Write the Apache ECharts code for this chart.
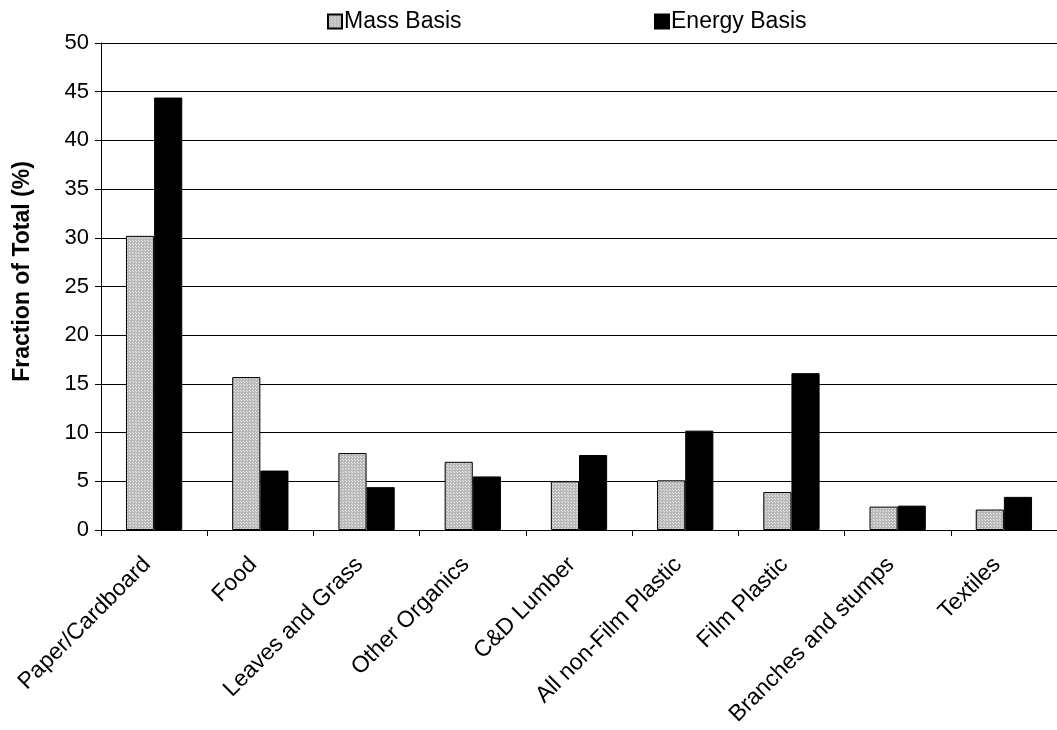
<!DOCTYPE html>
<html>
<head>
<meta charset="utf-8">
<script src="https://cdn.jsdelivr.net/npm/echarts@6/dist/echarts.min.js"></script>
<style>
html,body{margin:0;padding:0;background:#fff;}
#c{width:1057px;height:730px;}
</style>
</head>
<body>
<div id="c"></div>
<script>
var categories = ['Paper/Cardboard','Food','Leaves and Grass','Other Organics','C&D Lumber','All non-Film Plastic','Film Plastic','Branches and stumps','Textiles'];
var massBasis = [30.2, 15.7, 7.9, 7.0, 5.0, 5.1, 3.9, 2.4, 2.1];
var energyBasis = [44.4, 6.1, 4.4, 5.5, 7.7, 10.2, 16.1, 2.5, 3.4];
var yTicks = {min: 0, max: 50, interval: 5};

function makePattern(){
  var cv = document.createElement('canvas');
  cv.width = 3; cv.height = 3;
  var ctx = cv.getContext('2d');
  ctx.fillStyle = '#b8b8b8';
  ctx.fillRect(0,0,3,3);
  ctx.fillStyle = '#e8e8e8';
  ctx.fillRect(1,1,1,1);
  ctx.fillRect(0,0,1,1);
  return cv;
}
var pat = {image: makePattern(), repeat: 'repeat'};
var FONT = 'Liberation Sans, Arial, sans-serif';

var chart = echarts.init(document.getElementById('c'), null, {renderer:'canvas'});
chart.setOption({
  animation: false,
  backgroundColor: '#fff',
  legend: [
    {data:[{name:'Mass Basis', icon:'rect'}], left: 322, top: 5, itemWidth: 14, itemHeight: 14, itemGap: 0,
     textStyle:{fontFamily: FONT, fontSize: 23, color:'#000', padding:[0,0,0,-3]}},
    {data:[{name:'Energy Basis', icon:'rect'}], left: 649, top: 5, itemWidth: 14, itemHeight: 14, itemGap: 0,
     textStyle:{fontFamily: FONT, fontSize: 23, color:'#000', padding:[0,0,0,-3]}}
  ],
  grid: {left: 101, top: 43, width: 966, bottom: 200, containLabel: false},
  xAxis: {
    type: 'category',
    data: categories,
    axisLine: {lineStyle:{color:'#000', width:1}},
    axisTick: {show:true, length:6, lineStyle:{color:'#000'}},
    axisLabel: {rotate: 45, interval: 0, margin: 24, padding:[0,10,0,0], fontFamily: FONT, fontSize: 23, color:'#000'}
  },
  yAxis: {
    type: 'value',
    min: yTicks.min, max: yTicks.max, interval: yTicks.interval,
    name: 'Fraction of Total (%)',
    nameLocation: 'middle',
    nameGap: 67,
    nameTextStyle: {fontFamily: FONT, fontSize: 23, fontWeight:'bold', color:'#000', padding:[0,0,0,30]},
    axisLine: {show:true, lineStyle:{color:'#000', width:1}},
    axisTick: {show:true, length:6, lineStyle:{color:'#000'}},
    axisLabel: {fontFamily: FONT, fontSize: 22, color:'#000', margin: 12},
    splitLine: {show:true, lineStyle:{color:'#000', width:1}}
  },
  series: [
    {name:'Mass Basis', type:'bar', data: massBasis, barGap: '0%', barCategoryGap: '47%',
     itemStyle:{color: pat, borderColor:'#000', borderWidth:1}},
    {name:'Energy Basis', type:'bar', data: energyBasis,
     itemStyle:{color:'#000', borderColor:'#000', borderWidth:1}}
  ]
});
</script>
</body>
</html>
